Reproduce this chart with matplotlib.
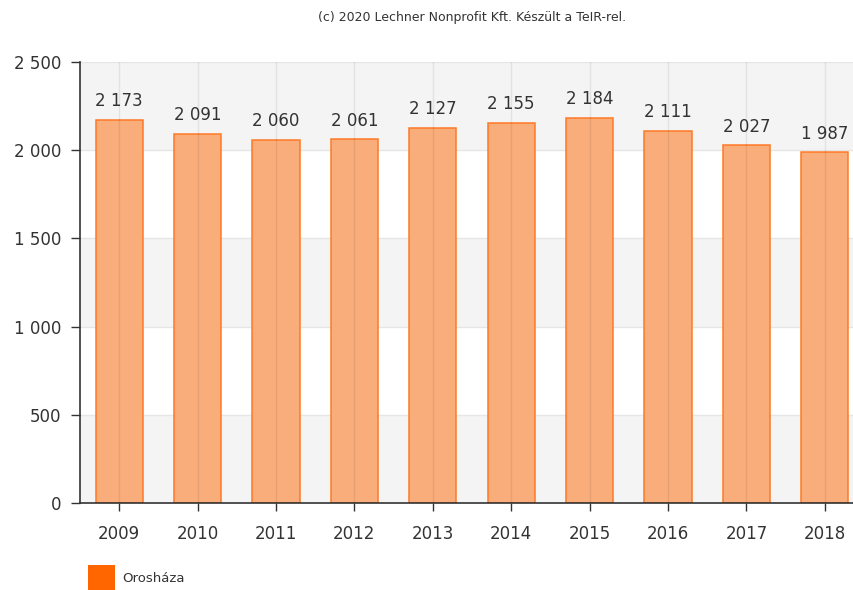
import matplotlib
matplotlib.use("Agg")
import matplotlib.pyplot as plt
from matplotlib.patches import Rectangle

years = ["2009", "2010", "2011", "2012", "2013", "2014", "2015", "2016", "2017", "2018"]
values = [2173, 2091, 2060, 2061, 2127, 2155, 2184, 2111, 2027, 1987]
series_name = "Orosháza"
yticks = [0, 500, 1000, 1500, 2000, 2500]
credit = "(c) 2020 Lechner Nonprofit Kft. Készült a TeIR-rel."

def fmt(v):
    return f"{v:,}".replace(",", " ")

W, H = 854, 590
fig = plt.figure(figsize=(W / 100, H / 100), dpi=100)
ax = fig.add_axes([80 / W, 87 / H, 784 / W, 441 / H])

x = list(range(len(years)))
ax.set_xlim(-0.5, len(years) - 0.5)
ax.set_ylim(0, 2500)

# alternating bands
for i in range(len(yticks) - 1):
    if i % 2 == 0:
        ax.axhspan(yticks[i], yticks[i + 1], color="#f4f4f4", zorder=0, lw=0)
for t in yticks[1:]:
    ax.axhline(t, color="#e6e6e6", lw=1, zorder=0.5)

bars = ax.bar(x, values, width=0.6, facecolor="#f9ad7b",
              edgecolor="#ff7a26", linewidth=1.1, zorder=2)

for xi in x:
    ax.axvline(xi, color=(0, 0, 0, 0.07), lw=1, zorder=3)

for xi, v in zip(x, values):
    ax.annotate(fmt(v), (xi, v), xytext=(0, 7), textcoords="offset points",
                ha="center", va="bottom", fontsize=12, color="#333333", zorder=4)

ax.set_xticks(x)
ax.set_xticklabels(years, fontsize=12, color="#333333")
ax.set_yticks(yticks)
ax.set_yticklabels([fmt(t) for t in yticks], fontsize=12, color="#333333")
ax.tick_params(axis="y", direction="out", length=6.5, width=1, color="#333333", pad=7)
ax.tick_params(axis="x", direction="out", length=5.5, width=1, color="#333333", pad=10)

for s in ["top", "right"]:
    ax.spines[s].set_visible(False)
for s in ["left", "bottom"]:
    ax.spines[s].set_color("#333333")
    ax.spines[s].set_linewidth(1.2)
ax.set_axisbelow(False)

fig.text(472 / W, 1 - 17 / H, credit, ha="center", va="center", fontsize=9, color="#333333")

# legend
fig.patches.append(Rectangle((88 / W, 1 - 590 / H), 27 / W, 25 / H,
                             transform=fig.transFigure, facecolor="#ff6600",
                             edgecolor="none"))
fig.text(122 / W, 1 - 578 / H, series_name, ha="left", va="center", fontsize=9.5, color="#333333")

fig.savefig("out.png", dpi=100)
